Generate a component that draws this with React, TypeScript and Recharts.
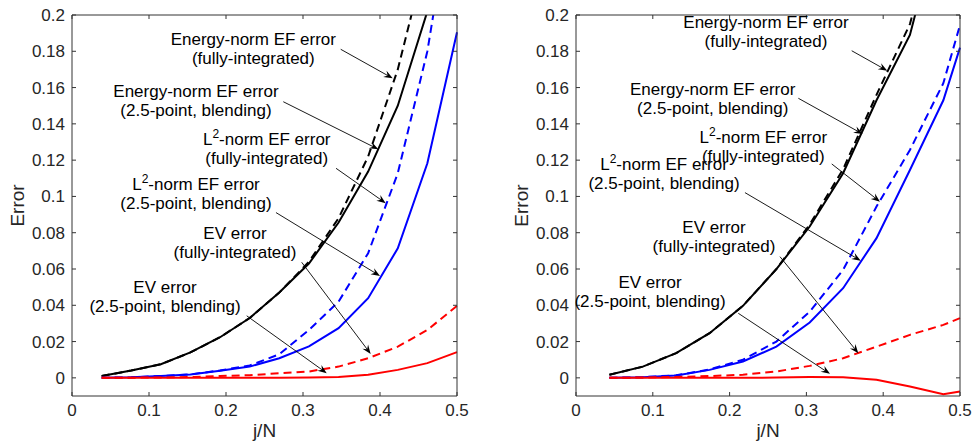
import React from 'react';
import {
  LineChart,
  Line,
  XAxis,
  YAxis,
  ReferenceLine,
  ReferenceDot,
} from 'recharts';

// left panel: j/N with N = 26
const xLeft = [0.0385, 0.0769, 0.1154, 0.1538, 0.1923, 0.2308, 0.2692, 0.3077, 0.3462, 0.3846, 0.4231, 0.4615, 0.5];
const energyBlendLeft = [0.001, 0.004, 0.0075, 0.014, 0.0224, 0.033, 0.047, 0.063, 0.0856, 0.1137, 0.15, 0.202, 0.27];
const energyFullLeft = [0.001, 0.004, 0.0075, 0.014, 0.0224, 0.033, 0.047, 0.064, 0.088, 0.122, 0.17, 0.235, 0.32];
const l2BlendLeft = [0, 0.0003, 0.001, 0.0018, 0.0039, 0.0062, 0.0108, 0.0173, 0.0274, 0.0439, 0.0714, 0.1183, 0.1905];
const l2FullLeft = [0, 0.0003, 0.001, 0.0019, 0.0041, 0.0068, 0.013, 0.0264, 0.042, 0.0687, 0.1128, 0.18, 0.28];
const evBlendLeft = [0, 0, 0, 0, 0, 0, 0, 0.0002, 0.0005, 0.0017, 0.0044, 0.0081, 0.0142];
const evFullLeft = [0, 0.0001, 0.0002, 0.0005, 0.001, 0.0015, 0.0025, 0.0035, 0.0062, 0.0108, 0.0172, 0.0264, 0.0397];

// right panel: j/N with N = 23
const xRight = [0.0435, 0.087, 0.1304, 0.1739, 0.2174, 0.2609, 0.3043, 0.3478, 0.3913, 0.4348, 0.4783, 0.5];
const energyBlendRight = [0.0017, 0.0062, 0.0136, 0.0246, 0.0397, 0.0599, 0.0834, 0.1128, 0.153, 0.189, 0.26, 0.3];
const energyFullRight = [0.0017, 0.0062, 0.0136, 0.0246, 0.0397, 0.06, 0.0845, 0.115, 0.156, 0.195, 0.265, 0.31];
const l2BlendRight = [0, 0.0004, 0.0013, 0.0044, 0.009, 0.0172, 0.0305, 0.0494, 0.077, 0.1146, 0.153, 0.182];
const l2FullRight = [0, 0.0004, 0.0014, 0.0046, 0.01, 0.02, 0.0365, 0.0595, 0.0944, 0.1256, 0.1624, 0.1945];
const evBlendRight = [0, 0, 0, 0, 0, 0.0002, 0.0005, 0.0004, -0.0011, -0.0048, -0.009, -0.0075];
const evFullRight = [0, 0.0002, 0.0005, 0.001, 0.0017, 0.0035, 0.0066, 0.0108, 0.0172, 0.0237, 0.0292, 0.0329];

const xTicks = [0, 0.1, 0.2, 0.3, 0.4, 0.5];
const yTicks = [0, 0.02, 0.04, 0.06, 0.08, 0.1, 0.12, 0.14, 0.16, 0.18, 0.2];

// annotation text blocks: [x, y, line1, line2]  (L2 = superscript form)
const labelsLeft: [number, number, string, string][] = [
  [0.2355, 0.1814, 'Energy-norm EF error', '(fully-integrated)'],
  [0.161, 0.1529, 'Energy-norm EF error', '(2.5-point, blending)'],
  [0.2529, 0.1264, 'L2', '(fully-integrated)'],
  [0.161, 0.1018, 'L2', '(2.5-point, blending)'],
  [0.2117, 0.0745, 'EV error', '(fully-integrated)'],
  [0.1208, 0.0448, 'EV error', '(2.5-point, blending)'],
];
const arrowsLeft: [number, number, number, number][] = [
  [0.349, 0.1811, 0.4165, 0.1651],
  [0.2744, 0.1522, 0.3978, 0.126],
  [0.3429, 0.1155, 0.4074, 0.0963],
  [0.2649, 0.0911, 0.4, 0.0562],
  [0.2983, 0.0637, 0.3879, 0.0132],
  [0.2269, 0.0342, 0.3308, 0.0026],
];
const labelsRight: [number, number, string, string][] = [
  [0.2474, 0.1908, 'Energy-norm EF error', '(fully-integrated)'],
  [0.178, 0.154, 'Energy-norm EF error', '(2.5-point, blending)'],
  [0.2439, 0.1277, 'L2', '(fully-integrated)'],
  [0.1146, 0.1126, 'L2', '(2.5-point, blending)'],
  [0.1797, 0.0778, 'EV error', '(fully-integrated)'],
  [0.0964, 0.0475, 'EV error', '(2.5-point, blending)'],
];
const arrowsRight: [number, number, number, number][] = [
  [0.359, 0.1803, 0.4053, 0.1693],
  [0.2895, 0.1541, 0.3733, 0.1344],
  [0.333, 0.1179, 0.3958, 0.0971],
  [0.22, 0.1021, 0.3707, 0.0646],
  [0.2656, 0.0668, 0.3676, 0.0136],
  [0.2113, 0.0356, 0.3307, 0.0022],
];

const FONT = '"Liberation Sans", Arial, Helvetica, sans-serif';
const AXIS = '#333333';

const fmtY = (v: number) => (v === 0 ? '0' : String(+v.toFixed(2)));

const Arrow = (p: any) => {
  const { x1, y1, x2, y2 } = p;
  const dx = x2 - x1;
  const dy = y2 - y1;
  const len = Math.sqrt(dx * dx + dy * dy) || 1;
  const ux = dx / len;
  const uy = dy / len;
  const L = 9;
  const W = 3.5;
  const bx = x2 - ux * L;
  const by = y2 - uy * L;
  const nx = x2 - ux * L * 0.65;
  const ny = y2 - uy * L * 0.65;
  const pts = [
    [x2, y2],
    [bx - uy * W, by + ux * W],
    [nx, ny],
    [bx + uy * W, by - ux * W],
  ]
    .map((q) => q.join(','))
    .join(' ');
  return (
    <g>
      <line x1={x1} y1={y1} x2={nx} y2={ny} stroke="#000" strokeWidth={0.9} />
      <polygon points={pts} fill="#000" />
    </g>
  );
};

const makeLabel = (l1: string, l2: string) => (p: any) => {
  const { cx, cy } = p;
  return (
    <text textAnchor="middle" fontFamily={FONT} fontSize={17} fill="#000">
      <tspan x={cx} y={cy - 3.5}>
        {l1 === 'L2' ? (
          <>
            L<tspan dy={-7} fontSize={12}>2</tspan>
            <tspan dy={7}>-norm EF error</tspan>
          </>
        ) : (
          l1
        )}
      </tspan>
      <tspan x={cx} y={cy + 15.5}>
        {l2}
      </tspan>
    </text>
  );
};

interface PanelProps {
  xs: number[];
  series: number[][];
  labels: [number, number, string, string][];
  arrows: [number, number, number, number][];
  yAxisWidth: number;
  rightMargin: number;
  labelOffset: number;
}

const styles = [
  { color: '#000000', dash: undefined },
  { color: '#000000', dash: '8 5' },
  { color: '#0000ff', dash: undefined },
  { color: '#0000ff', dash: '8 5' },
  { color: '#ff0000', dash: undefined },
  { color: '#ff0000', dash: '8 5' },
];

const Panel = ({ xs, series, labels, arrows, yAxisWidth, rightMargin, labelOffset }: PanelProps) => {
  const data = xs.map((x, i) => {
    const row: Record<string, number> = { x };
    series.forEach((s, k) => {
      row['s' + k] = s[i];
    });
    return row;
  });
  const tickStyle = { fontSize: 17, fill: '#262626', fontFamily: FONT };
  return (
    <LineChart
      width={486}
      height={441}
      data={data}
      margin={{ top: 14, right: rightMargin, bottom: 0, left: 0 }}
    >
      <XAxis
        dataKey="x"
        type="number"
        domain={[0, 0.5]}
        ticks={xTicks}
        tickFormatter={(v) => String(v)}
        height={45}
        tickSize={-4}
        tickMargin={12}
        stroke={AXIS}
        tick={tickStyle}
        label={{ value: 'j/N', position: 'insideBottom', offset: 4, fontSize: 19, fill: '#262626', fontFamily: FONT }}
      />
      <XAxis
        xAxisId="top"
        orientation="top"
        dataKey="x"
        type="number"
        domain={[0, 0.5]}
        ticks={xTicks}
        tickFormatter={() => ''}
        height={1}
        tickSize={-4}
        stroke={AXIS}
      />
      <YAxis
        type="number"
        domain={[-0.01, 0.2]}
        allowDataOverflow
        ticks={yTicks}
        tickFormatter={fmtY}
        width={yAxisWidth}
        tickSize={-4}
        tickMargin={11}
        stroke={AXIS}
        tick={tickStyle}
        label={{
          value: 'Error',
          angle: -90,
          position: 'insideLeft',
          offset: labelOffset,
          fontSize: 19,
          fill: '#262626',
          fontFamily: FONT,
          style: { textAnchor: 'middle' },
        }}
      />
      <YAxis
        yAxisId="right"
        orientation="right"
        type="number"
        domain={[-0.01, 0.2]}
        allowDataOverflow
        ticks={yTicks}
        tickFormatter={() => ''}
        width={1}
        tickSize={-4}
        stroke={AXIS}
      />
      {styles.map((st, k) => (
        <Line
          key={k}
          dataKey={'s' + k}
          type="linear"
          stroke={st.color}
          strokeWidth={2}
          strokeDasharray={st.dash}
          dot={false}
          isAnimationActive={false}
        />
      ))}
      {arrows.map((a, i) => (
        <ReferenceLine
          key={'a' + i}
          segment={[
            { x: a[0], y: a[1] },
            { x: a[2], y: a[3] },
          ]}
          shape={Arrow}
        />
      ))}
      {labels.map((l, i) => (
        <ReferenceDot key={'l' + i} x={l[0]} y={l[1]} r={0} shape={makeLabel(l[2], l[3])} />
      ))}
    </LineChart>
  );
};

export default function App() {
  return (
    <div style={{ position: 'absolute', left: 0, top: 0, width: 972, height: 441, background: '#fff' }}>
      <div style={{ position: 'absolute', left: 0, top: 0 }}>
        <Panel
          xs={xLeft}
          series={[energyBlendLeft, energyFullLeft, l2BlendLeft, l2FullLeft, evBlendLeft, evFullLeft]}
          labels={labelsLeft}
          arrows={arrowsLeft}
          yAxisWidth={72}
          rightMargin={28}
          labelOffset={17}
        />
      </div>
      <div style={{ position: 'absolute', left: 486, top: 0 }}>
        <Panel
          xs={xRight}
          series={[energyBlendRight, energyFullRight, l2BlendRight, l2FullRight, evBlendRight, evFullRight]}
          labels={labelsRight}
          arrows={arrowsRight}
          yAxisWidth={90}
          rightMargin={11}
          labelOffset={35}
        />
      </div>
    </div>
  );
}
